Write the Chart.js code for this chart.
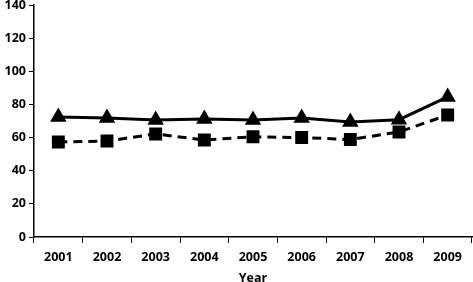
<!DOCTYPE html>
<html>
<head>
<meta charset="utf-8">
<script src="https://cdn.jsdelivr.net/npm/chart.js@4/dist/chart.umd.min.js"></script>
<style>
html,body{margin:0;padding:0;background:#fff;}
#wrap{width:473px;height:282px;}
</style>
</head>
<body>
<div id="wrap"><canvas id="c" width="473" height="282"></canvas></div>
<script>
const categories = ['2001','2002','2003','2004','2005','2006','2007','2008','2009'];
const seriesTriangle = [72.4, 71.8, 70.6, 71.2, 70.6, 71.8, 69.4, 70.8, 84.5];
const seriesSquare = [57.3, 57.9, 62.2, 58.5, 60.5, 60.0, 58.8, 63.4, 73.6];
const yTicks = [0, 20, 40, 60, 80, 100, 120, 140];
const xTitle = 'Year';

const font = {family: '"Open Sans", "Liberation Sans", sans-serif', size: 12.5, weight: 'bold'};

new Chart(document.getElementById('c'), {
  type: 'line',
  data: {
    labels: categories,
    datasets: [
      {
        data: seriesTriangle,
        borderColor: '#000',
        backgroundColor: '#000',
        borderWidth: 3,
        pointStyle: 'triangle',
        pointRadius: 6.5,
        pointHoverRadius: 6.5,
        tension: 0
      },
      {
        data: seriesSquare,
        borderColor: '#000',
        backgroundColor: '#000',
        borderWidth: 3,
        borderDash: [9, 6],
        pointStyle: 'rect',
        pointRadius: 7,
        pointHoverRadius: 7,
        tension: 0
      }
    ]
  },
  options: {
    responsive: false,
    animation: false,
    devicePixelRatio: 1,
    layout: {autoPadding: false, padding: {top: 5, right: 1, left: 0, bottom: 0}},
    plugins: {legend: {display: false}, tooltip: {enabled: false}},
    scales: {
      x: {
        offset: true,
        afterFit: (s) => { s.height = 45; s.paddingLeft = 0; s.paddingRight = 0; },
        grid: {display: true, drawOnChartArea: false, drawTicks: true, tickLength: 6, color: '#000', offset: true},
        border: {display: true, color: '#000', width: 1.5},
        ticks: {color: '#000', font: font, padding: 7, maxRotation: 0},
        title: {display: true, text: xTitle, color: '#000', font: font, padding: {top: 4, bottom: -4}}
      },
      y: {
        min: 0,
        max: 140,
        afterBuildTicks: (s) => { s.ticks = yTicks.map(v => ({value: v})); },
        afterFit: (s) => { s.width = 34; s.paddingTop = 0; s.paddingBottom = 0; },
        grid: {display: true, drawOnChartArea: false, drawTicks: true, tickLength: 5, color: '#000'},
        border: {display: true, color: '#000', width: 1.5},
        ticks: {color: '#000', font: font, padding: 3}
      }
    }
  }
});
</script>
</body>
</html>
